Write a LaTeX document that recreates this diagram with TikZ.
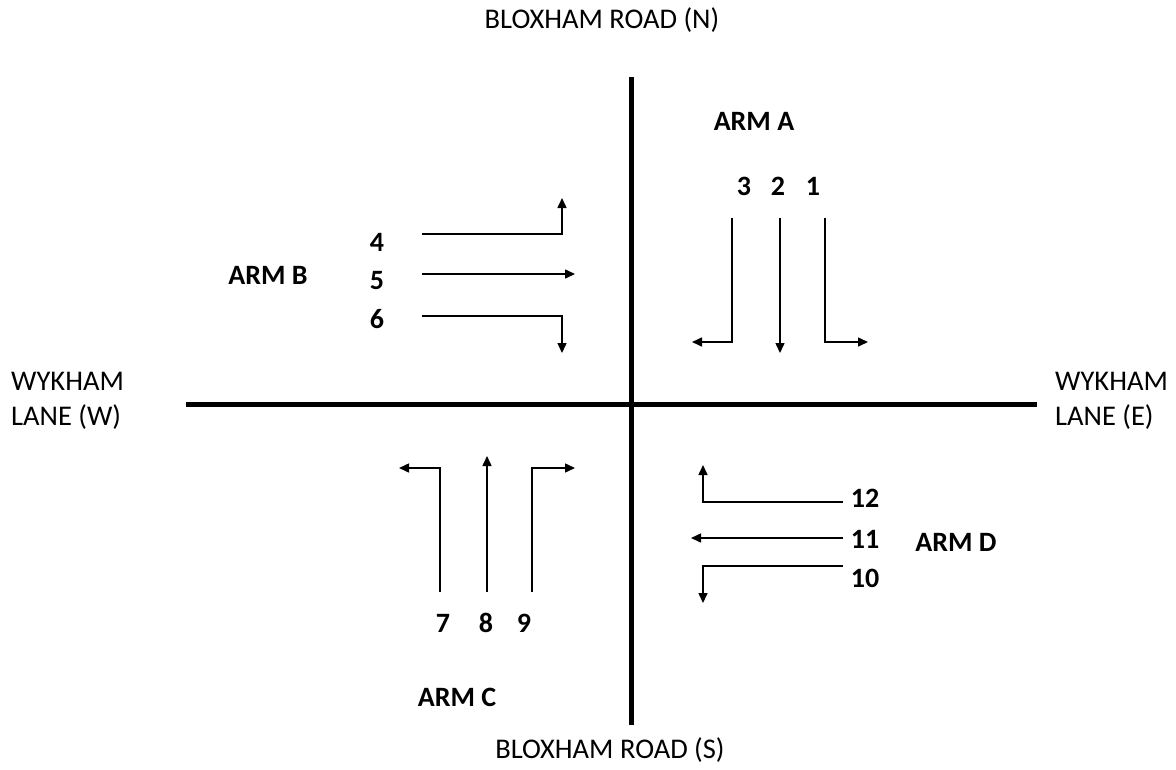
\documentclass[tikz,border=0pt]{standalone}
\usepackage{fontspec}
\setmainfont{Carlito}
\usetikzlibrary{arrows.meta}
\begin{document}
\begin{tikzpicture}[x=1pt,y=-1pt,
  road/.style={line width=5pt},
  move/.style={line width=1.5pt,-{Triangle[length=10pt,width=9pt]}},
  roadname/.style={font=\fontsize{28.5}{35}\selectfont,inner sep=0pt},
  armname/.style={font=\fontsize{28}{34}\selectfont\bfseries,inner sep=0pt},
  num/.style={font=\fontsize{28}{34}\selectfont\bfseries,inner sep=0pt}]
\useasboundingbox[fill=white] (0,0) rectangle (1176,769);

% junction
\coordinate (nEnd) at (631,77);
\coordinate (sEnd) at (631,725);
\coordinate (wEnd) at (186,404);
\coordinate (eEnd) at (1037,404);
\draw[road] (nEnd) -- (sEnd);
\draw[road] (wEnd) -- (eEnd);

% road names
\node[roadname] (north) at (602,20) {BLOXHAM ROAD (N)};
\node[roadname] (south) at (610,750) {BLOXHAM ROAD (S)};
\node[roadname,anchor=west,align=left] (west) at (11,401) {WYKHAM\\LANE (W)};
\node[roadname,anchor=west,align=left] (east) at (1055,401) {WYKHAM\\LANE (E)};

% arm labels
\node[armname] (armA) at (754,121) {ARM A};
\node[armname] (armB) at (268,275) {ARM B};
\node[armname] (armC) at (457,697) {ARM C};
\node[armname] (armD) at (956,542) {ARM D};

% Arm A movements
\node[num] (m3) at (744,186) {3};
\node[num] (m2) at (778,186) {2};
\node[num] (m1) at (813,186) {1};
\draw[move] (732,218) -- (732,342) -- (692,342);
\draw[move] (780,218) -- (780,353);
\draw[move] (825,218) -- (825,342) -- (868,342);

% Arm B movements
\node[num] (m4) at (377,242) {4};
\node[num] (m5) at (377,281) {5};
\node[num] (m6) at (377,319) {6};
\draw[move] (422,234) -- (562,234) -- (562,198);
\draw[move] (422,274) -- (575,274);
\draw[move] (422,316) -- (562,316) -- (562,353);

% Arm C movements
\node[num] (m7) at (443,623) {7};
\node[num] (m8) at (486,623) {8};
\node[num] (m9) at (524,623) {9};
\draw[move] (440,592) -- (440,468) -- (399,468);
\draw[move] (487,592) -- (487,456);
\draw[move] (532,592) -- (532,468) -- (575,468);

% Arm D movements
\node[num] (m12) at (865,498) {12};
\node[num] (m11) at (865,539) {11};
\node[num] (m10) at (865,578) {10};
\draw[move] (843,502) -- (703,502) -- (703,465);
\draw[move] (843,538) -- (691,538);
\draw[move] (843,566) -- (703,566) -- (703,603);
\end{tikzpicture}
\end{document}
